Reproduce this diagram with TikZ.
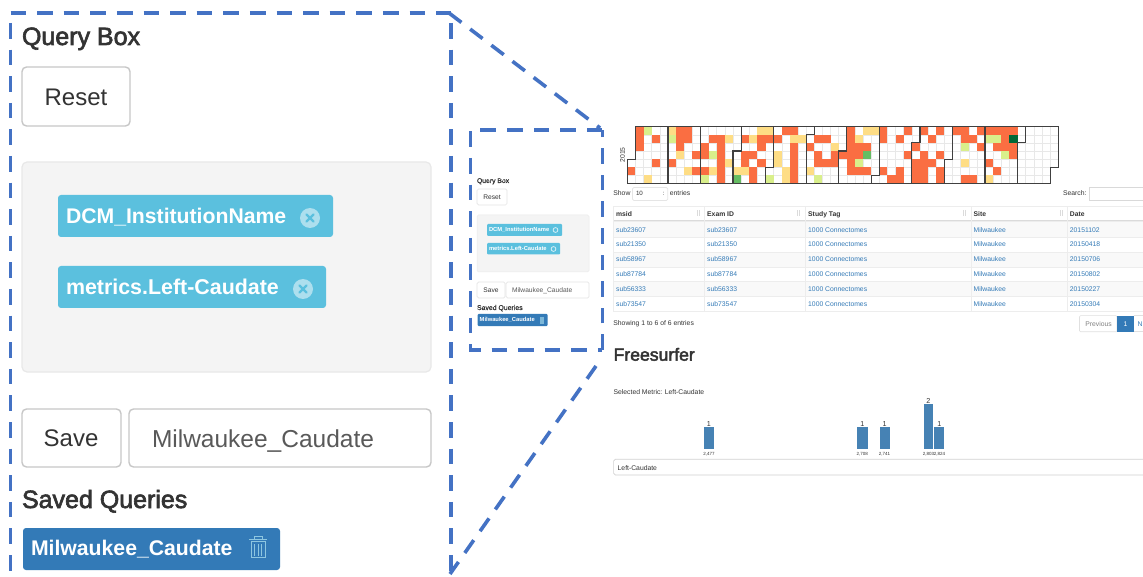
\documentclass[tikz,border=0pt]{standalone}
\usepackage{fontspec}
\setmainfont{Liberation Sans}
\newfontfamily\medfont[FakeBold=2.6]{Liberation Sans}
\newfontfamily\smallmed[FakeBold=0.8]{Liberation Sans}
\definecolor{dashblue}{HTML}{4472C4}
\definecolor{linkblue}{HTML}{337AB7}
\definecolor{tagcyan}{HTML}{5BC0DE}
\definecolor{tagicon}{HTML}{ADDFEE}
\definecolor{barblue}{HTML}{4682B4}
\definecolor{bodytext}{HTML}{333333}
\definecolor{calO}{HTML}{FA6E42}
\definecolor{calY}{HTML}{FEDD85}
\definecolor{calL}{HTML}{D9EF8B}
\definecolor{calG}{HTML}{66BD63}
\definecolor{calD}{HTML}{006837}
\newcommand{\fsz}[1]{\fontsize{#1}{#1}\selectfont}
\newcommand{\cw}{8.13}
\newcommand{\ch}{8.09}
\tikzset{
  x=1pt,y=-1pt,
  txt/.style={inner sep=0pt,outer sep=0pt,anchor=base west,text=bodytext},
  ctr/.style={inner sep=0pt,outer sep=0pt,anchor=center,text=bodytext},
  zoomdash/.style={draw=dashblue,line width=3.8pt,dash pattern=on 15.6pt off 11pt},
  btn/.style={draw=black!22,line width=1.4pt,rounded corners=4.5pt,fill=white},
  btnmini/.style={draw=black!10,line width=0.7pt,rounded corners=1.5pt,fill=white},
  cellbox/.style={draw=black!9,line width=0.5pt},
  calline/.style={draw=black!75,line width=1.1pt,line join=miter},
  rowline/.style={draw=black!7,line width=0.6pt},
}
\begin{document}
\begin{tikzpicture}
\useasboundingbox (0,0) rectangle (1143,577);
\fill[white] (0,0) rectangle (1143,577);
%% ---------- zoom frame ----------
\coordinate (bigTL) at (10.5,13);
\coordinate (bigTR) at (451,13);
\coordinate (bigBR) at (451,575);
\coordinate (bigBL) at (10.5,575);
\coordinate (smTR) at (600,128);
\coordinate (smBR) at (596,366);
\draw[zoomdash] (bigTL) -- (bigTR);
\draw[zoomdash] (10.5,23) -- (bigBL);
\draw[zoomdash] (451,23) -- (bigBR);
\draw[zoomdash,line width=3.6pt] (449,13) -- (smTR);
\draw[zoomdash,line width=3.6pt] (smBR) -- (450,574);
\draw[zoomdash,line width=3.4pt] (602.3,130) -- (470.7,130) -- (470.7,350) -- (602.3,350);
\draw[zoomdash,line width=3.4pt] (602.3,350) -- (602.3,130);
%% ---------- large query box ----------
\node[txt] (qbT) at (22,45) {\medfont\fsz{25}Query Box};
\draw[btn] (22,67) rectangle (130,126);
\node[ctr] (resetT) at (76,97) {\fsz{24}Reset};
\draw[draw=black!9,line width=1.2pt,fill=black!4.5,rounded corners=5pt] (22,162) rectangle (431,372);
\fill[tagcyan,rounded corners=3pt] (58,195) rectangle (333,237);
\node[txt,text=white] (tag1T) at (66,224) {\bfseries\fsz{21.2}DCM\_InstitutionName};
\fill[tagicon] (310,218) circle (10);
\draw[tagcyan,line width=2.4pt,line cap=round] (306.5,214.5) -- (313.5,221.5) (306.5,221.5) -- (313.5,214.5);
\fill[tagcyan,rounded corners=3pt] (58,266) rectangle (326,308);
\node[txt,text=white] (tag2T) at (66,294.5) {\bfseries\fsz{21.4}metrics.Left-Caudate};
\fill[tagicon] (303,289) circle (10);
\draw[tagcyan,line width=2.4pt,line cap=round] (299.5,285.5) -- (306.5,292.5) (299.5,292.5) -- (306.5,285.5);
\draw[btn] (22,409) rectangle (121,467);
\node[ctr] (saveT) at (71,438) {\fsz{24}Save};
\draw[btn] (129,409) rectangle (431,467);
\node[txt,text=black!65] (inputT) at (152,447) {\fsz{24.5}Milwaukee\_Caudate};
\node[txt] (sqT) at (22,508) {\medfont\fsz{25}Saved Queries};
\fill[linkblue,rounded corners=3pt] (23,528) rectangle (280,570);
\node[txt,text=white] (savedT) at (31,555) {\bfseries\fsz{21.2}Milwaukee\_Caudate};
\begin{scope}[draw=tagicon!75!linkblue,line width=1pt]
  \draw (249,539.5) -- (267,539.5);
  \draw (254,539.5) -- (254,536) -- (262,536) -- (262,539.5);
  \draw (251,541.5) rectangle (265,557.5);
  \draw (254.5,544) -- (254.5,555.5) (258,544) -- (258,555.5) (261.5,544) -- (261.5,555.5);
\end{scope}
%% ---------- small query box ----------
\node[txt] (mqbT) at (477,183) {\smallmed\fsz{6.8}Query Box};
\draw[btnmini] (477,189) rectangle (507,205);
\node[ctr] (mresetT) at (492,197) {\fsz{6.65}Reset};
\draw[draw=black!8,line width=0.5pt,fill=black!4.5,rounded corners=1.5pt] (477,215) rectangle (589,272);
\fill[tagcyan,rounded corners=1pt] (487,224) rectangle (562,236);
\node[txt,text=white] (mtag1T) at (489,231.8) {\bfseries\fsz{5.8}DCM\_InstitutionName};
\draw[white!80!tagcyan,line width=0.7pt] (555.5,230) circle (2.4);
\fill[tagcyan,rounded corners=1pt] (487,243) rectangle (560,254.5);
\node[txt,text=white] (mtag2T) at (489,250.8) {\bfseries\fsz{5.8}metrics.Left-Caudate};
\draw[white!80!tagcyan,line width=0.7pt] (553.5,249) circle (2.4);
\draw[btnmini] (477,282) rectangle (505,298);
\node[ctr] (msaveT) at (491,290) {\fsz{6.65}Save};
\draw[btnmini] (506,282) rectangle (589,298);
\node[txt,text=black!65] (minputT) at (512,292.5) {\fsz{6.65}Milwaukee\_Caudate};
\node[txt] (msqT) at (477,310) {\smallmed\fsz{6.9}Saved Queries};
\fill[linkblue,rounded corners=1pt] (477.5,314) rectangle (547.5,326);
\node[txt,text=white] (msavedT) at (479.7,321.8) {\bfseries\fsz{5.8}Milwaukee\_Caudate};
\fill[tagicon!60!linkblue] (539.5,317) rectangle (543.5,323.5);
%% ---------- calendar heatmap ----------
\begin{scope}[shift={(627.3,126.7)}]
  \foreach \c in {0,...,52}{
    \foreach \r in {0,...,6}{
      \pgfmathtruncatemacro{\skipme}{(\c==0 && \r<4) || (\c==52 && \r>4) ? 1 : 0}
      \ifnum\skipme=0
        \draw[cellbox] ({\c*\cw},{\r*\ch}) rectangle ++(\cw,\ch);
      \fi
    }
  }
  \foreach \c/\r in {
    1/0,1/1,1/2,3/1,3/4,0/5,
    6/0,7/0,6/1,7/1,6/2,8/3,5/4,8/5,
    9/2,9/3,9/5,10/1,11/1,11/2,11/3,11/4,11/5,11/6,
    14/1,14/3,14/4,15/3,15/5,15/6,16/1,16/2,16/4,17/1,
    18/1,19/0,20/0,20/2,20/3,20/4,20/5,20/6,
    22/2,23/1,23/3,23/4,24/1,24/4,25/3,25/4,26/3,
    27/0,27/1,27/2,27/3,27/4,27/5,28/2,28/3,28/5,29/2,29/5,
    31/0,31/1,31/5,32/6,33/1,33/5,33/6,34/0,34/3,
    35/2,35/4,35/5,35/6,36/0,36/3,36/4,36/5,36/6,37/1,37/4,38/0,38/3,38/5,38/6,
    40/0,41/0,41/1,41/6,42/1,42/6,43/0,43/2,
    44/0,44/4,45/0,45/2,45/5,46/0,46/1,46/2,47/0,47/2,47/3}
    \fill[calO] ({\c*\cw},{\r*\ch}) rectangle ++(\cw,\ch);
  \foreach \c/\r in {
    2/6,5/0,6/3,7/5,10/5,12/1,12/4,13/5,14/5,15/1,16/0,17/0,
    18/3,18/4,19/5,19/6,20/1,21/1,22/5,25/2,28/1,29/0,30/0,41/4,44/6}
    \fill[calY] ({\c*\cw},{\r*\ch}) rectangle ++(\cw,\ch);
  \foreach \c/\r in {2/0,5/1,9/6,10/3,17/6,23/6,28/4,41/2,44/1,45/1,46/3}
    \fill[calL] ({\c*\cw},{\r*\ch}) rectangle ++(\cw,\ch);
  \foreach \c/\r in {13/6,29/3}
    \fill[calG] ({\c*\cw},{\r*\ch}) rectangle ++(\cw,\ch);
  \fill[calD] ({47*\cw},{1*\ch}) rectangle ++(\cw,\ch);
  % month outlines
  \draw[calline] ({0*\cw},{7*\ch}) -- ({0*\cw},{4*\ch}) -- ({1*\cw},{4*\ch}) -- ({1*\cw},0)
     -- ({53*\cw},0) -- ({53*\cw},{5*\ch}) -- ({52*\cw},{5*\ch}) -- ({52*\cw},{7*\ch}) -- cycle;
  \foreach \top/\low/\rr in {5/5/0,9/9/0,14/13/3,18/17/5,23/22/1,27/26/3,31/30/6,36/35/2,40/39/4,44/44/0,49/48/2}
    \draw[calline] ({\top*\cw},0) -- ({\top*\cw},{\rr*\ch}) -- ({\low*\cw},{\rr*\ch}) -- ({\low*\cw},{7*\ch});
\end{scope}
\node[ctr,rotate=90] (yearT) at (622.5,155) {\fsz{6.8}2015};
%% ---------- table controls ----------
\node[txt] (showT) at (613.4,195.5) {\fsz{6.8}Show};
\draw[btnmini] (632.4,187.5) rectangle (667.8,200.5);
\node[txt] (tenT) at (636,196) {\fsz{6.2}10};
\node[ctr] (caretT) at (663.5,194) {\fsz{6}:};
\node[txt] (entT) at (669.8,195.5) {\fsz{6.8}entries};
\node[txt] (searchT) at (1063,195.5) {\fsz{6.8}Search:};
\draw[draw=black!15,line width=0.7pt] (1143,187.5) -- (1089.3,187.5) -- (1089.3,200.5) -- (1143,200.5);
%% ---------- table ----------
\foreach \ya/\yb in {221/237.3,252/267,281.7/296.7}
  \fill[black!2.5] (613.3,\ya) rectangle (1143,\yb);
\foreach \yy in {206.7,221,237.3,252,267,281.7,296.7,311.3}
  \draw[rowline] (613.3,\yy) -- (1143,\yy);
\draw[draw=black!14,line width=1pt] (613.3,221) -- (1143,221);
\foreach \xx in {613.4,704.5,805.4,971.3,1067.2}
  \draw[rowline] (\xx,206.7) -- (\xx,311.3);
\foreach \xx in {698.4,798.6,964.5,1061.4}
  \draw[draw=black!14,line width=0.6pt] (\xx-1,210.5) -- (\xx-1,216.5) (\xx+1,210.5) -- (\xx+1,216.5);
\node[txt] (hA) at (616.1,216.5) {\bfseries\fsz{6.8}msid};
\node[txt] (hB) at (707.2,216.5) {\bfseries\fsz{6.8}Exam ID};
\node[txt] (hC) at (808.2,216.5) {\bfseries\fsz{6.8}Study Tag};
\node[txt] (hD) at (973.7,216.5) {\bfseries\fsz{6.8}Site};
\node[txt] (hE) at (1069.9,216.5) {\bfseries\fsz{6.8}Date};
\foreach \yy/\sid/\dd in {232.2/sub23607/20151102,246.8/sub21350/20150418,261.8/sub58967/20150706,276.8/sub87784/20150802,291.5/sub56333/20150227,306.5/sub73547/20150304}{
  \node[txt,text=linkblue] at (616.1,\yy) {\fsz{6.8}\sid};
  \node[txt,text=linkblue] at (707.2,\yy) {\fsz{6.8}\sid};
  \node[txt,text=linkblue] at (808.2,\yy) {\fsz{6.8}1000 Connectomes};
  \node[txt,text=linkblue] at (973.7,\yy) {\fsz{6.8}Milwaukee};
  \node[txt,text=linkblue] at (1069.9,\yy) {\fsz{6.8}\dd};
}
\node[txt] (showingT) at (613.4,325.5) {\fsz{6.8}Showing 1 to 6 of 6 entries};
\draw[draw=black!12,line width=0.6pt,fill=white,rounded corners=1pt] (1079.5,315.7) rectangle (1117,331.7);
\node[ctr,text=black!50] (prevT) at (1098.5,323.7) {\fsz{6.8}Previous};
\fill[linkblue] (1117.3,315.7) rectangle (1133.5,331.7);
\node[ctr,text=white] (oneT) at (1125.4,323.7) {\fsz{6.8}1};
\draw[draw=black!12,line width=0.6pt] (1133.5,315.7) -- (1143,315.7) (1133.5,331.7) -- (1143,331.7);
\node[ctr,text=linkblue] (nT) at (1140,323.7) {\fsz{6.8}N};
%% ---------- histogram ----------
\node[txt] (fsT) at (613.6,360.7) {\medfont\fsz{17.6}Freesurfer};
\node[txt] (metT) at (613.6,394.5) {\fsz{6.8}Selected Metric: Left-Caudate};
\foreach \xa/\xb/\yt/\lab/\cnt in {703.8/714.1/426.7/{2,477}/1,857.2/867.5/426.7/{2,708}/1,879.5/889.5/426.7/{2,741}/1,923.5/933.4/404/{2,803}/2,934.4/944.4/426.7/{2,824}/1}{
  \fill[barblue] (\xa,\yt) rectangle (\xb,449.3);
  \node[ctr] at ({(\xa+\xb)/2},{\yt-3}) {\fsz{7.2}\cnt};
  \node[ctr] at ({(\xa+\xb)/2},454.5) {\fsz{4.5}\lab};
}
\draw[draw=black!18,line width=0.7pt,rounded corners=1.7pt] (1143,459.3) -- (613.6,459.3) -- (613.6,475) -- (1143,475);
\node[txt] (leftT) at (617.7,470) {\fsz{6.8}Left-Caudate};
\end{tikzpicture}
\end{document}
